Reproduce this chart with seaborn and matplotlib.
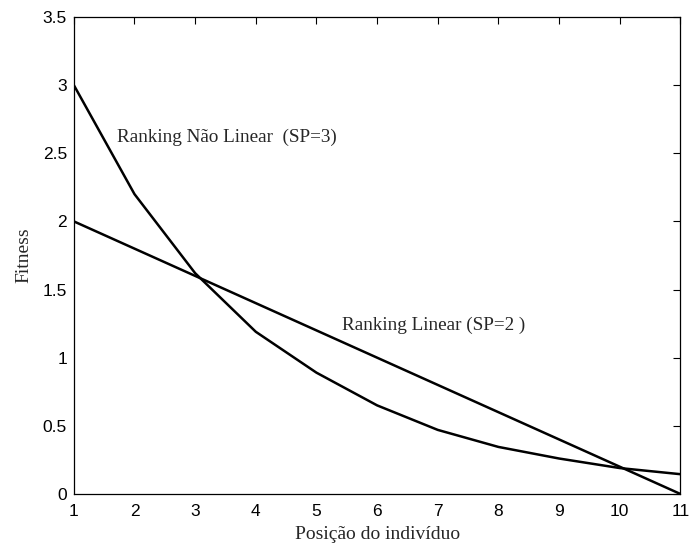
import numpy as np
import pandas as pd
import matplotlib
matplotlib.use("Agg")
import matplotlib.pyplot as plt
import seaborn as sns

# posições dos indivíduos e fitness
posicao = [1, 2, 3, 4, 5, 6, 7, 8, 9, 10, 11]
fitness_linear = [2.0, 1.8, 1.6, 1.4, 1.2, 1.0, 0.8, 0.6, 0.4, 0.2, 0.0]
fitness_nao_linear = [3.0, 2.2, 1.62, 1.19, 0.89, 0.65, 0.47, 0.345, 0.26, 0.19, 0.145]
yticks = [0, 0.5, 1, 1.5, 2, 2.5, 3, 3.5]
ytick_labels = ["0", "0.5", "1", "1.5", "2", "2.5", "3", "3.5"]

df = pd.DataFrame({
    "posicao": posicao * 2,
    "fitness": fitness_linear + fitness_nao_linear,
    "serie": ["linear"] * len(posicao) + ["nao_linear"] * len(posicao),
})

sns.set_style("white")
fig = plt.figure(figsize=(6.9, 5.47), dpi=100)
ax = fig.add_axes([0.107, 0.097, 0.879, 0.872])

sns.lineplot(data=df, x="posicao", y="fitness", hue="serie",
             palette={"linear": "black", "nao_linear": "black"},
             linewidth=1.8, legend=False, ax=ax)

ax.set_xlim(1, 11)
ax.set_ylim(0, 3.5)
ax.set_xticks(posicao)
ax.set_yticks(yticks)
ax.set_yticklabels(ytick_labels)
ax.tick_params(direction="in", top=True, right=True, length=5, width=0.8,
               labelsize=12.5, colors="black")
ax.tick_params(axis="x", pad=7)
ax.tick_params(axis="y", pad=5)
for lbl in ax.get_xticklabels() + ax.get_yticklabels():
    lbl.set_family("Liberation Sans")
for s in ax.spines.values():
    s.set_color("black")
    s.set_linewidth(0.9)

serif = "Liberation Serif"
ax.set_xlabel("Posição do indivíduo", family=serif, fontsize=14, labelpad=5)
ax.set_ylabel("Fitness", family=serif, fontsize=14, labelpad=7)
ax.text(1.72, 2.62, "Ranking Não Linear  (SP=3)", family=serif, fontsize=13.8,
        va="center", ha="left")
ax.text(5.42, 1.24, "Ranking Linear (SP=2 )", family=serif, fontsize=13.8,
        va="center", ha="left")

fig.savefig("out.png", dpi=100)
